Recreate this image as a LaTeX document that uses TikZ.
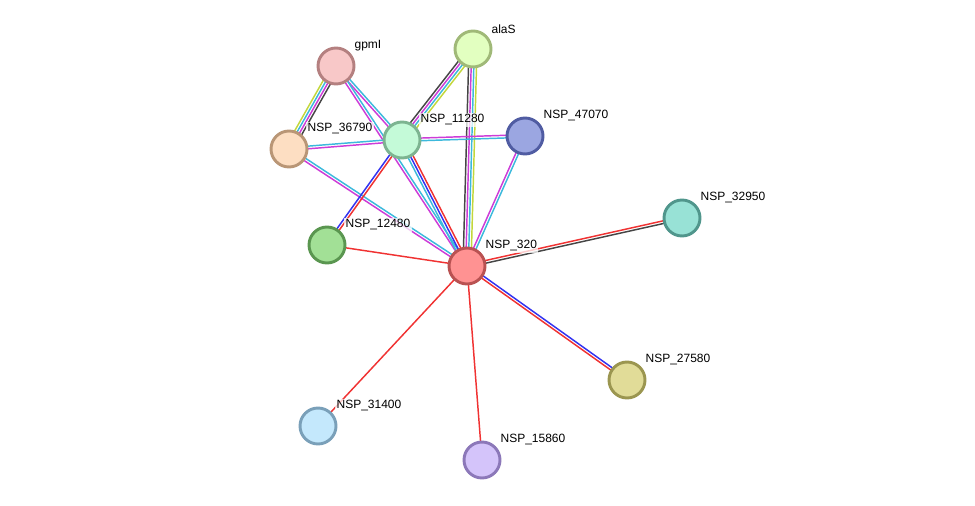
\documentclass[tikz,border=0pt]{standalone}
\usepackage{fontspec}
\setmainfont{Liberation Sans}
\usetikzlibrary{calc,backgrounds}
% link colours
\definecolor{strRed}{RGB}{240,50,50}
\definecolor{strBlue}{RGB}{50,50,240}
\definecolor{strCyan}{RGB}{60,185,220}
\definecolor{strMagenta}{RGB}{205,60,215}
\definecolor{strYellow}{RGB}{195,215,60}
\definecolor{strGray}{RGB}{70,70,70}
% protein colours (fill / border)
\definecolor{gpmiF}{RGB}{248,200,200}\definecolor{gpmiB}{RGB}{180,128,128}
\definecolor{alasF}{RGB}{226,255,192}\definecolor{alasB}{RGB}{160,185,120}
\definecolor{pTsixF}{RGB}{253,222,194}\definecolor{pTsixB}{RGB}{185,150,118}
\definecolor{pElevF}{RGB}{196,250,216}\definecolor{pElevB}{RGB}{125,180,145}
\definecolor{pFourF}{RGB}{155,166,225}\definecolor{pFourB}{RGB}{80,92,162}
\definecolor{pThirF}{RGB}{152,226,214}\definecolor{pThirB}{RGB}{80,150,140}
\definecolor{pTwelF}{RGB}{162,224,150}\definecolor{pTwelB}{RGB}{90,150,80}
\definecolor{pHubF}{RGB}{255,146,146}\definecolor{pHubB}{RGB}{185,82,82}
\definecolor{pTwenF}{RGB}{225,220,152}\definecolor{pTwenB}{RGB}{155,150,80}
\definecolor{pOneF}{RGB}{196,232,252}\definecolor{pOneB}{RGB}{122,160,185}
\definecolor{pFiftF}{RGB}{212,196,250}\definecolor{pFiftB}{RGB}{140,120,185}
\tikzset{prot/.style 2 args={circle,fill=#1,draw=#2,line width=2.2pt,minimum size=27pt,inner sep=0pt}, lab/.style={anchor=west,fill=white,fill opacity=0.75,text opacity=1,inner sep=1pt,font=\fontsize{9pt}{10pt}\selectfont}, link/.style={line width=1.1pt}}
\newcommand{\strlink}[3]{\foreach \col/\off in {#3}
  \draw[link,\col] ($(#1)!\off!90:(#2)$) -- ($(#2)!\off!-90:(#1)$);}

\begin{document}
\begin{tikzpicture}[x=0.75pt,y=-0.75pt]
\useasboundingbox (0,0) rectangle (975,506);
\node[prot={gpmiF}{gpmiB}] (gpmi) at (336,66) {};
\node[prot={alasF}{alasB}] (alas) at (473,49) {};
\node[prot={pTsixF}{pTsixB}] (n36790) at (289,149) {};
\node[prot={pElevF}{pElevB}] (n11280) at (402,140) {};
\node[prot={pFourF}{pFourB}] (n47070) at (525,136) {};
\node[prot={pThirF}{pThirB}] (n32950) at (682,218) {};
\node[prot={pTwelF}{pTwelB}] (n12480) at (327,245) {};
\node[prot={pHubF}{pHubB}] (n320) at (467,266) {};
\node[prot={pTwenF}{pTwenB}] (n27580) at (627,380) {};
\node[prot={pOneF}{pOneB}] (n31400) at (318,426) {};
\node[prot={pFiftF}{pFiftB}] (n15860) at (482,460) {};
% names
\node[lab] (gpmi-l) at ($(gpmi)+(17,-20)$) {gpmI};
\node[lab] (alas-l) at ($(alas)+(17,-20)$) {alaS};
\node[lab] (n36790-l) at ($(n36790)+(17,-20)$) {NSP\_36790};
\node[lab] (n11280-l) at ($(n11280)+(17,-20)$) {NSP\_11280};
\node[lab] (n47070-l) at ($(n47070)+(17,-20)$) {NSP\_47070};
\node[lab] (n32950-l) at ($(n32950)+(17,-20)$) {NSP\_32950};
\node[lab] (n12480-l) at ($(n12480)+(17,-20)$) {NSP\_12480};
\node[lab] (n320-l) at ($(n320)+(17,-20)$) {NSP\_320};
\node[lab] (n27580-l) at ($(n27580)+(17,-20)$) {NSP\_27580};
\node[lab] (n31400-l) at ($(n31400)+(17,-20)$) {NSP\_31400};
\node[lab] (n15860-l) at ($(n15860)+(17,-20)$) {NSP\_15860};
% interactions
\begin{pgfonlayer}{background}
\strlink{gpmi}{n36790}{strYellow/-3pt,strCyan/-1pt,strMagenta/1pt,strGray/3pt}
\strlink{gpmi}{n11280}{strMagenta/-1pt,strCyan/1pt}
\strlink{gpmi}{n320}{strMagenta/-1pt,strCyan/1pt}
\strlink{n36790}{n11280}{strMagenta/-1pt,strCyan/1pt}
\strlink{n36790}{n320}{strMagenta/-1pt,strCyan/1pt}
\strlink{alas}{n11280}{strGray/-3pt,strMagenta/-1pt,strCyan/1pt,strYellow/3pt}
\strlink{alas}{n320}{strGray/-3pt,strMagenta/-1pt,strCyan/1pt,strYellow/3pt}
\strlink{n11280}{n47070}{strCyan/-1pt,strMagenta/1pt}
\strlink{n47070}{n320}{strMagenta/-1pt,strCyan/1pt}
\strlink{n11280}{n12480}{strBlue/-1pt,strRed/1pt}
\strlink{n11280}{n320}{strCyan/-2pt,strBlue/0pt,strRed/2pt}
\strlink{n12480}{n320}{strRed/0pt}
\strlink{n320}{n32950}{strGray/-1pt,strRed/1pt}
\strlink{n320}{n27580}{strRed/-1pt,strBlue/1pt}
\strlink{n320}{n31400}{strRed/0pt}
\strlink{n320}{n15860}{strRed/0pt}
\end{pgfonlayer}
\end{tikzpicture}
\end{document}
